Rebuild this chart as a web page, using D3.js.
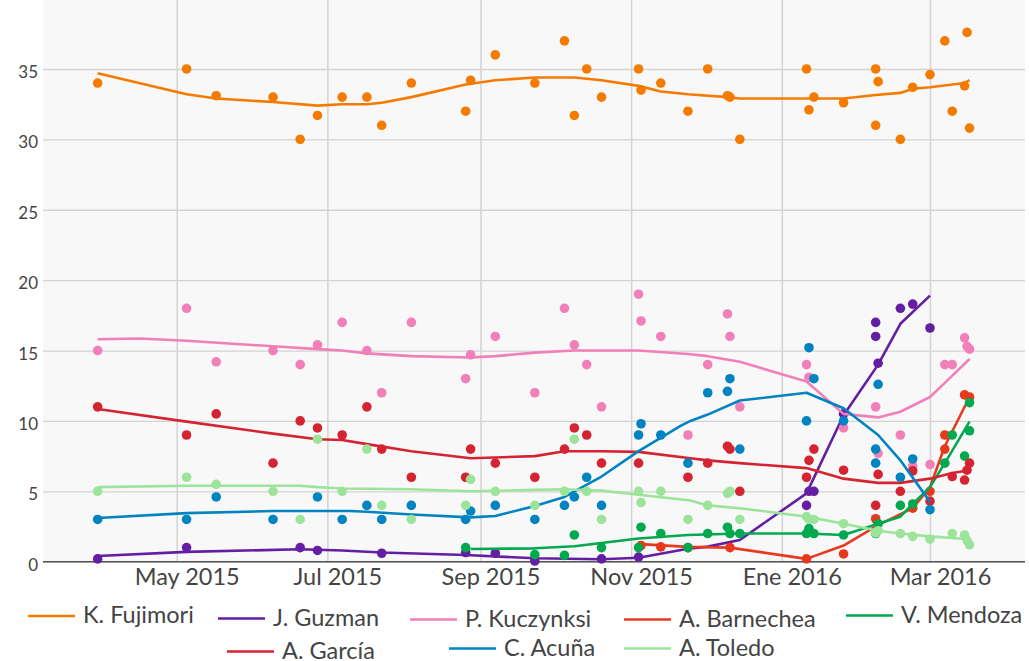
<!DOCTYPE html>
<html>
<head>
<meta charset="utf-8">
<script src="https://cdn.jsdelivr.net/npm/d3@7"></script>
<style>
  body { margin: 0; background: #fff; }
  svg text { font-family: Lato, "Open Sans", sans-serif; fill: #444; }
</style>
</head>
<body>
<svg width="1029" height="661"></svg>
<script>
// ---- data ----
var candidates = ["K. Fujimori", "J. Guzman", "P. Kuczynksi", "A. Barnechea", "V. Mendoza", "A. García", "C. Acuña", "A. Toledo"];
var colors = ["#f47b00", "#641ea3", "#f17fb8", "#e8391e", "#00a94f", "#d42331", "#0083c1", "#9de49b"];

var yTicks = [0, 5, 10, 15, 20, 25, 30, 35];
var xTickDates = ["2015-05-01", "2015-07-01", "2015-09-01", "2015-11-01", "2016-01-01", "2016-03-01"];
var xTickLabels = ["May 2015", "Jul 2015", "Sep 2015", "Nov 2015", "Ene 2016", "Mar 2016"];

var fujimoriPolls = [["2015-03-30",34],["2015-05-05",35],["2015-05-17",33.1],["2015-06-09",33],["2015-06-20",30],["2015-06-27",31.7],["2015-07-07",33],["2015-07-17",33],["2015-07-23",31],["2015-08-04",34],["2015-08-26",32],["2015-08-28",34.2],["2015-09-07",36],["2015-09-23",34],["2015-10-05",37],["2015-10-09",31.7],["2015-10-14",35],["2015-10-20",33],["2015-11-04",35],["2015-11-05",33.5],["2015-11-13",34],["2015-11-24",32],["2015-12-02",35],["2015-12-10",33.1],["2015-12-11",33],["2015-12-15",30],["2016-01-11",35],["2016-01-12",32.1],["2016-01-14",33],["2016-01-26",32.6],["2016-02-08",35],["2016-02-09",34.1],["2016-02-08",31],["2016-02-18",30],["2016-02-23",33.7],["2016-03-01",34.6],["2016-03-07",37],["2016-03-10",32],["2016-03-15",33.8],["2016-03-16",37.6],["2016-03-17",30.8]];
var fujimoriTrend = [["2015-03-30",34.7],["2015-05-05",33.2],["2015-05-17",32.9],["2015-06-09",32.65],["2015-06-27",32.4],["2015-07-07",32.5],["2015-07-17",32.5],["2015-07-23",32.6],["2015-08-04",33],["2015-08-26",33.9],["2015-09-07",34.2],["2015-09-23",34.4],["2015-10-09",34.4],["2015-10-20",34.2],["2015-11-04",33.8],["2015-11-13",33.4],["2015-11-24",33.2],["2015-12-10",33],["2015-12-15",32.9],["2016-01-11",32.9],["2016-01-26",32.9],["2016-02-08",33.15],["2016-02-18",33.3],["2016-02-23",33.6],["2016-03-01",33.7],["2016-03-15",34],["2016-03-17",34.2]];

var guzmanPolls = [["2015-03-30",0.2],["2015-05-05",1],["2015-06-20",1],["2015-06-27",0.8],["2015-07-23",0.6],["2015-08-26",0.65],["2015-09-07",0.6],["2015-09-23",0.05],["2015-10-20",0.2],["2015-11-04",0.33],["2016-01-11",4],["2016-01-12",5],["2016-01-14",5],["2016-01-26",10.5],["2016-02-08",17],["2016-02-08",16],["2016-02-09",14.1],["2016-02-18",18],["2016-02-23",18.3],["2016-03-01",16.6]];
var guzmanTrend = [["2015-03-30",0.4],["2015-05-05",0.7],["2015-06-20",0.88],["2015-07-07",0.8],["2015-07-23",0.65],["2015-08-26",0.48],["2015-09-23",0.24],["2015-10-20",0.17],["2015-11-04",0.28],["2015-11-24",0.92],["2015-12-02",1.07],["2015-12-15",1.54],["2016-01-11",4.85],["2016-01-26",10.4],["2016-02-09",14],["2016-02-18",16.9],["2016-03-01",18.9]];

var kuczynskiPolls = [["2015-03-30",15],["2015-05-05",18],["2015-05-17",14.2],["2015-06-09",15],["2015-06-20",14],["2015-06-27",15.4],["2015-07-07",17],["2015-07-17",15],["2015-07-23",12],["2015-08-04",17],["2015-08-26",13],["2015-08-28",14.7],["2015-09-07",16],["2015-09-23",12],["2015-10-05",18],["2015-10-09",15.4],["2015-10-14",14],["2015-10-20",11],["2015-11-04",19],["2015-11-05",17.1],["2015-11-13",16],["2015-11-24",9],["2015-12-02",14],["2015-12-10",17.6],["2015-12-11",16],["2015-12-15",11],["2016-01-11",14],["2016-01-12",13.1],["2016-01-26",9.5],["2016-02-08",11],["2016-02-09",7.7],["2016-02-18",9],["2016-02-23",6.8],["2016-03-01",6.9],["2016-03-07",14],["2016-03-10",14],["2016-03-15",15.9],["2016-03-16",15.3],["2016-03-17",15.1]];
var kuczynskiTrend = [["2015-03-30",15.8],["2015-04-16",15.85],["2015-05-05",15.7],["2015-06-09",15.3],["2015-06-27",15.1],["2015-07-07",15],["2015-07-17",14.8],["2015-08-04",14.6],["2015-08-28",14.5],["2015-09-07",14.6],["2015-09-23",14.85],["2015-10-09",15],["2015-11-04",15],["2015-11-24",14.75],["2015-12-02",14.6],["2015-12-15",14.2],["2016-01-11",12.8],["2016-01-26",10.5],["2016-02-09",10.25],["2016-02-18",10.65],["2016-03-01",11.7],["2016-03-07",12.7],["2016-03-17",14.4]];

var barnecheaPolls = [["2015-11-05",1.15],["2015-11-13",1.05],["2015-11-24",1],["2015-12-11",1],["2016-01-11",0.2],["2016-01-26",0.55],["2016-02-08",3.05],["2016-02-23",3.8],["2016-03-01",5],["2016-03-07",8],["2016-03-07",9],["2016-03-15",11.85],["2016-03-17",11.7]];
var barnecheaTrend = [["2015-11-05",1.25],["2015-11-24",1.05],["2015-12-11",1],["2016-01-11",0.2],["2016-01-26",1.15],["2016-02-09",2.6],["2016-02-23",3.8],["2016-03-01",5.3],["2016-03-07",8.2],["2016-03-17",11.7]];

var mendozaPolls = [["2015-08-26",1],["2015-09-23",0.5],["2015-10-05",0.45],["2015-10-09",1.9],["2015-10-20",1],["2015-11-04",1],["2015-11-05",2.45],["2015-11-13",2],["2015-11-24",1],["2015-12-02",2],["2015-12-10",2.45],["2015-12-11",2],["2015-12-15",2],["2016-01-11",2],["2016-01-12",2.35],["2016-01-14",2],["2016-01-26",1.9],["2016-02-08",2],["2016-02-09",2.7],["2016-02-18",4],["2016-02-23",4.1],["2016-03-07",7],["2016-03-10",9],["2016-03-15",7.5],["2016-03-17",9.3],["2016-03-17",11.3]];
var mendozaTrend = [["2015-08-28",0.9],["2015-09-23",0.95],["2015-10-09",1.1],["2015-11-04",1.65],["2015-11-24",1.9],["2015-12-15",2],["2016-01-11",2],["2016-01-26",1.9],["2016-02-09",2.7],["2016-02-18",3.2],["2016-02-23",4.1],["2016-03-01",5.3],["2016-03-07",7],["2016-03-17",9.95]];

var garciaPolls = [["2015-03-30",11],["2015-05-05",9],["2015-05-17",10.5],["2015-06-09",7],["2015-06-20",10],["2015-06-27",9.5],["2015-07-07",9],["2015-07-17",11],["2015-07-23",8],["2015-08-04",6],["2015-08-26",6],["2015-08-28",8],["2015-09-07",7],["2015-09-23",6],["2015-10-05",8],["2015-10-09",9.5],["2015-10-14",9],["2015-10-20",7],["2015-11-04",7],["2015-11-24",6],["2015-12-02",7],["2015-12-10",8.2],["2015-12-11",8],["2015-12-15",5],["2016-01-11",6],["2016-01-12",7.2],["2016-01-14",8],["2016-01-26",6.5],["2016-02-08",4],["2016-02-09",6.2],["2016-02-18",5],["2016-02-23",6.45],["2016-03-01",4.3],["2016-03-10",6.05],["2016-03-15",5.8],["2016-03-16",6.5],["2016-03-17",7]];
var garciaTrend = [["2015-03-30",10.85],["2015-05-05",9.95],["2015-06-09",9.1],["2015-06-27",8.7],["2015-07-07",8.65],["2015-07-17",8.35],["2015-08-04",7.85],["2015-08-28",7.35],["2015-09-23",7.5],["2015-10-05",7.85],["2015-10-20",7.85],["2015-11-04",7.8],["2015-11-25",7.35],["2015-12-02",7.2],["2015-12-15",7],["2016-01-11",6.65],["2016-01-26",5.9],["2016-02-09",5.6],["2016-02-18",5.6],["2016-03-01",5.9],["2016-03-10",6.3],["2016-03-17",6.5]];

var acunaPolls = [["2015-03-30",3],["2015-05-05",3],["2015-05-17",4.6],["2015-06-09",3],["2015-06-27",4.6],["2015-07-07",3],["2015-07-17",4],["2015-07-23",3],["2015-08-04",4],["2015-08-26",3],["2015-08-28",3.6],["2015-09-07",4],["2015-09-23",3],["2015-10-05",4],["2015-10-09",4.6],["2015-10-14",6],["2015-10-20",4],["2015-11-04",9],["2015-11-05",9.8],["2015-11-13",9],["2015-11-24",7],["2015-12-02",12],["2015-12-10",12.1],["2015-12-11",13],["2015-12-15",8],["2016-01-11",10],["2016-01-12",15.2],["2016-01-14",13],["2016-01-26",10],["2016-02-08",8],["2016-02-09",12.6],["2016-02-08",7],["2016-02-18",6],["2016-02-23",7.3],["2016-03-01",3.7]];
var acunaTrend = [["2015-03-30",3.1],["2015-05-05",3.45],["2015-06-09",3.6],["2015-07-10",3.6],["2015-07-17",3.55],["2015-08-04",3.35],["2015-08-28",3.15],["2015-09-07",3.25],["2015-09-23",3.95],["2015-10-05",4.6],["2015-10-20",6.05],["2015-11-04",7.85],["2015-11-21",9.65],["2015-11-25",10],["2015-12-02",10.45],["2015-12-15",11.45],["2016-01-11",12],["2016-01-26",10.9],["2016-02-09",9],["2016-02-18",7.2],["2016-03-01",4.25]];

var toledoPolls = [["2015-03-30",5],["2015-05-05",6],["2015-05-17",5.5],["2015-06-09",5],["2015-06-20",3],["2015-06-27",8.7],["2015-07-07",5],["2015-07-17",8],["2015-07-23",4],["2015-08-04",3],["2015-08-26",4],["2015-08-28",5.85],["2015-09-07",5],["2015-09-23",4],["2015-10-05",5],["2015-10-09",8.7],["2015-10-14",5],["2015-10-20",3],["2015-11-04",5],["2015-11-05",4.2],["2015-11-13",5],["2015-11-24",3],["2015-12-02",4],["2015-12-10",4.85],["2015-12-11",5],["2015-12-15",3],["2016-01-11",3.2],["2016-01-12",3],["2016-01-14",3],["2016-01-26",2.7],["2016-02-08",2.05],["2016-02-09",2.2],["2016-02-18",2],["2016-02-23",1.8],["2016-03-01",1.6],["2016-03-10",2],["2016-03-15",1.9],["2016-03-16",1.5],["2016-03-17",1.2]];
var toledoTrend = [["2015-03-30",5.3],["2015-05-05",5.4],["2015-06-20",5.4],["2015-06-27",5.3],["2015-07-07",5.2],["2015-08-04",5.15],["2015-08-28",5],["2015-09-23",5.1],["2015-10-05",5.15],["2015-10-20",5.05],["2015-11-04",4.75],["2015-11-25",4.35],["2015-12-02",4],["2015-12-15",3.8],["2016-01-11",3.2],["2016-01-26",2.7],["2016-02-09",2.2],["2016-02-18",2],["2016-03-01",1.8],["2016-03-17",1.6]];

var polls = [fujimoriPolls, guzmanPolls, kuczynskiPolls, barnecheaPolls, mendozaPolls, garciaPolls, acunaPolls, toledoPolls];
var trends = [fujimoriTrend, guzmanTrend, kuczynskiTrend, barnecheaTrend, mendozaTrend, garciaTrend, acunaTrend, toledoTrend];

// ---- layout ----
var svg = d3.select("svg"),
    plotL = 43, plotR = 1025, plotT = 0, plotB = 561.7;
var parse = d3.timeParse("%Y-%m-%d");

var x = d3.scaleTime()
    .domain([parse("2015-05-01"), parse("2016-03-01")])
    .range([176.7, 930]);
var y = d3.scaleLinear()
    .domain([0, 39.9])
    .range([plotB, plotT]);

svg.append("rect")
    .attr("x", plotL).attr("y", plotT)
    .attr("width", plotR - plotL).attr("height", plotB - plotT)
    .attr("fill", "#f8f8f8");

// horizontal grid + y labels
var yAxis = svg.append("g")
    .attr("transform", "translate(" + plotL + ",0)")
    .call(d3.axisLeft(y).tickValues(yTicks).tickSize(-(plotR - plotL)).tickPadding(5));
yAxis.select(".domain").remove();
yAxis.selectAll(".tick line").attr("stroke", "#d3d3d3").attr("stroke-width", 1.3);
yAxis.selectAll(".tick text")
    .attr("font-size", 17).attr("dy", "0.5em")
    .style("font-family", "Lato, sans-serif").attr("fill", "#444");

// vertical grid + x labels
var xAxis = svg.append("g")
    .attr("transform", "translate(0," + plotB + ")")
    .call(d3.axisBottom(x)
        .tickValues(xTickDates.map(parse))
        .tickFormat(function(d, i) { return xTickLabels[i]; })
        .tickSize(-(plotB - plotT)).tickPadding(3));
xAxis.select(".domain").remove();
xAxis.selectAll(".tick line").attr("stroke", "#d3d3d3").attr("stroke-width", 1.5);
xAxis.selectAll(".tick text")
    .attr("font-size", 23.5).attr("dx", 10).attr("dy", "0.85em")
    .style("font-family", "Lato, sans-serif").attr("fill", "#444");

svg.append("line")
    .attr("x1", plotL).attr("x2", plotR)
    .attr("y1", plotB).attr("y2", plotB)
    .attr("stroke", "#555").attr("stroke-width", 1.5);

// series: smoothed trend + poll dots
var line = d3.line()
    .x(function(d) { return x(parse(d[0])); })
    .y(function(d) { return y(d[1]); });

candidates.forEach(function(name, i) {
    var g = svg.append("g").attr("class", "series");
    g.append("path")
        .datum(trends[i])
        .attr("d", line)
        .attr("fill", "none")
        .attr("stroke", colors[i])
        .attr("stroke-width", 2.6)
        .attr("stroke-linejoin", "round");
    g.selectAll("circle")
        .data(polls[i])
        .enter().append("circle")
        .attr("cx", function(d) { return x(parse(d[0])); })
        .attr("cy", function(d) { return y(d[1]); })
        .attr("r", 4.8)
        .attr("fill", colors[i]);
});

// legend
var legendPos = [[28, 616], [218, 618.5], [410, 619.5], [624, 619.5], [846, 615.5], [227, 651.5], [449, 648.5], [624, 648.5]];
candidates.forEach(function(name, i) {
    var p = legendPos[i];
    svg.append("line")
        .attr("x1", p[0]).attr("x2", p[0] + 47)
        .attr("y1", p[1]).attr("y2", p[1])
        .attr("stroke", colors[i]).attr("stroke-width", 2.6);
    svg.append("text")
        .attr("x", p[0] + 55).attr("y", p[1] + 7)
        .attr("font-size", 23.5)
        .text(name);
});
</script>
</body>
</html>
